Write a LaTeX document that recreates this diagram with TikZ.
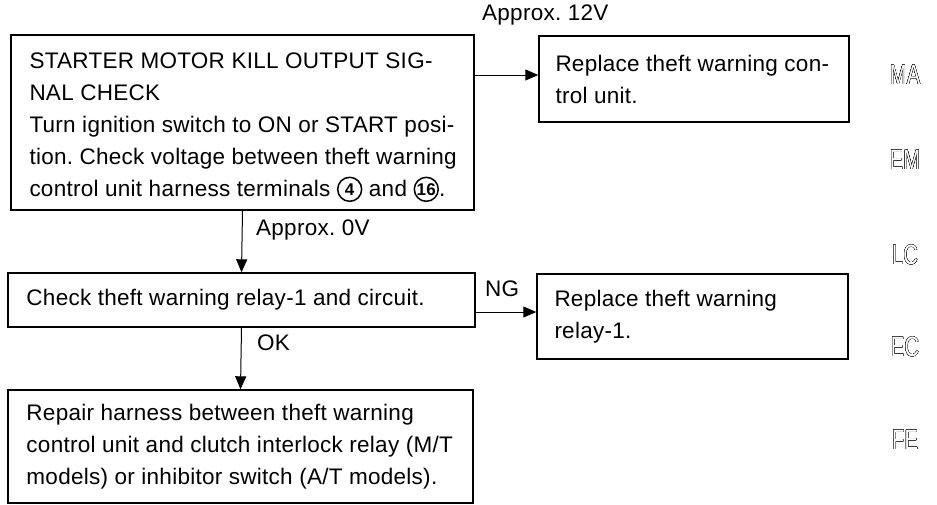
\documentclass[tikz,border=0pt]{standalone}
\usepackage{fontspec}
\setmainfont[LetterSpace=1.2]{Liberation Sans}
\usepackage{contour}
\contourlength{0.3pt}
\contournumber{16}
\usetikzlibrary{arrows.meta}
\newcommand{\circnum}[1]{\tikz[baseline={([yshift=-1.5pt]cn.base)}]\node[draw,circle,line width=1.5pt,inner sep=0pt,minimum size=24pt,font=\fontsize{17}{17}\selectfont\bfseries](cn){#1};}
\tikzset{
  box/.style={draw,line width=1.4pt,rectangle,inner sep=0pt},
  txt/.style={inner sep=0pt,align=left,anchor=west,font=\fontsize{22.5}{32}\selectfont},
  arr/.style={line width=1pt,-{Triangle[length=13pt,width=11pt]}},
  lbl/.style={font=\fontsize{22.5}{25}\selectfont,inner sep=0pt},
  side/.style={font=\fontsize{28}{28}\selectfont,inner sep=0pt,xscale=0.72}
}
\begin{document}
\frenchspacing
\begin{tikzpicture}[x=1pt,y=-1pt]
\useasboundingbox (0,0) rectangle (937,504);
\node[box,minimum width=463pt,minimum height=175pt] (b1) at (242.5,122.5) {};
\node[txt] (t1) at ([xshift=19pt,yshift=-5pt]b1.west)
 {STARTER MOTOR KILL OUTPUT SIG-\\NAL CHECK\\Turn ignition switch to ON or START posi-\\tion. Check voltage between theft warning\\control unit harness terminals \circnum{4} and \circnum{16}.};
\node[box,minimum width=310pt,minimum height=86pt] (b2) at (694,79) {};
\node[txt] (t2) at ([xshift=17pt]b2.west) {Replace theft warning con-\\trol unit.};
\node[box,minimum width=467pt,minimum height=54pt] (b3) at (241.5,300) {};
\node[txt] (t3) at ([xshift=19pt]b3.west) {Check theft warning relay-1 and circuit.};
\node[box,minimum width=311pt,minimum height=85pt] (b4) at (692.5,316.5) {};
\node[txt] (t4) at ([xshift=18pt]b4.west) {Replace theft warning\\relay-1.};
\node[box,minimum width=465pt,minimum height=113pt] (b5) at (240.5,446.5) {};
\node[txt] (t5) at ([xshift=19pt]b5.west)
 {Repair harness between theft warning\\control unit and clutch interlock relay (M/T\\models) or inhibitor switch (A/T models).};
\draw[arr] (b1.east |- 0,75) -- (b2.west |- 0,75);
\draw[arr] (b1.south) -- (b3.north);
\draw[arr] (b3.east |- 0,312) -- (b4.west |- 0,312);
\draw[arr] (b3.south) -- (b5.north);
\node[lbl,anchor=west] (l12) at (482,15) {Approx. 12V};
\node[lbl,anchor=west] (l0) at (256,230) {Approx. 0V};
\node[lbl,anchor=west] (lng) at (485,289) {NG};
\node[lbl,anchor=west] (lok) at (257,343) {OK};
\node[side] (sma) at (905,75) {\contour{black}{\textcolor{white}{MA}}};
\node[side] (sem) at (905,160) {\contour{black}{\textcolor{white}{EM}}};
\node[side] (slc) at (905,255) {\contour{black}{\textcolor{white}{LC}}};
\node[side] (sec) at (905,347) {\contour{black}{\textcolor{white}{EC}}};
\node[side] (sfe) at (905,440) {\contour{black}{\textcolor{white}{FE}}};
\end{tikzpicture}
\end{document}
